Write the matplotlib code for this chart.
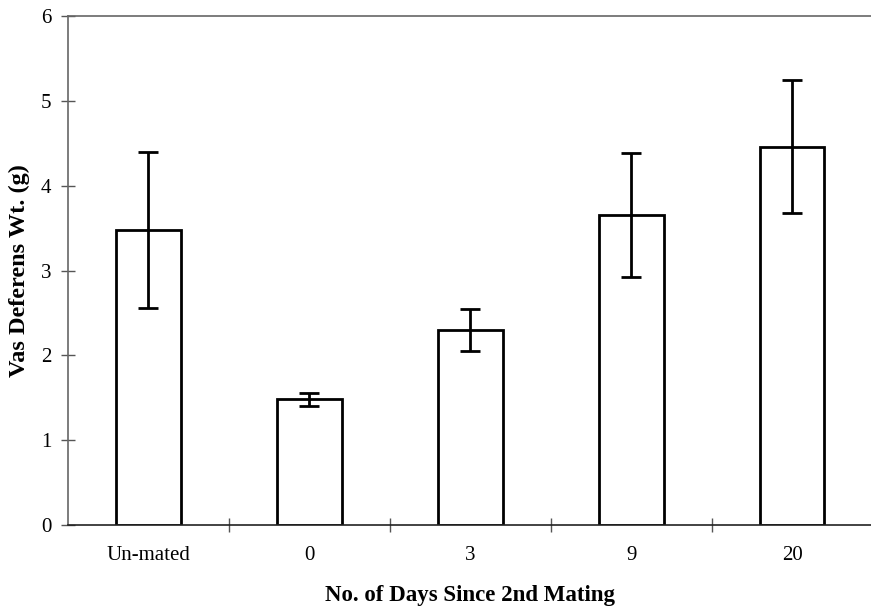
import matplotlib
matplotlib.use("Agg")
import matplotlib.pyplot as plt
import numpy as np

categories = ["Un-mated", "0", "3", "9", "20"]
means = [3.48, 1.48, 2.30, 3.65, 4.46]
errors = [0.92, 0.08, 0.25, 0.73, 0.78]
yticks = [0, 1, 2, 3, 4, 5, 6]

plt.rcParams['font.family'] = ['Liberation Serif', 'DejaVu Serif']

fig = plt.figure(figsize=(8.71, 6.06), dpi=100)
ax = fig.add_axes([68/871, 1-525/606, 1-68/871+0.002, (525-16)/606])

x = np.arange(len(categories))
ax.bar(x, means, width=0.4, color='white', edgecolor='black', linewidth=2, zorder=2)
ax.errorbar(x, means, yerr=errors, fmt='none', ecolor='black', elinewidth=2,
            capsize=7, capthick=2, zorder=3)

ax.set_xlim(-0.5, len(categories) - 0.5)
ax.set_ylim(0, 6)
ax.set_yticks(yticks)
ax.set_yticklabels([str(t) for t in yticks], fontsize=15)
ax.set_xticks(x)
ax.set_xticklabels(categories, fontsize=15)
ax.tick_params(axis='x', length=0, pad=15)
ax.set_xticks(np.arange(len(categories) - 1) + 0.5, minor=True)
ax.tick_params(axis='x', which='minor', direction='inout', length=10, width=1, color='#555555')
ax.tick_params(axis='y', direction='inout', length=10, width=1, color='#555555', pad=7)

for s in ['left', 'top']:
    ax.spines[s].set_color('#666666')
    ax.spines[s].set_linewidth(1.2)
ax.spines['bottom'].set_color('#222222')
ax.spines['bottom'].set_linewidth(1.2)
ax.spines['right'].set_visible(False)

ax.set_ylabel('Vas Deferens Wt. (g)', fontsize=17.5, fontweight='bold', labelpad=8)
ax.set_xlabel('No. of Days Since 2nd Mating', fontsize=16.5, fontweight='bold', labelpad=14.5)

fig.savefig('out.png', dpi=100)
